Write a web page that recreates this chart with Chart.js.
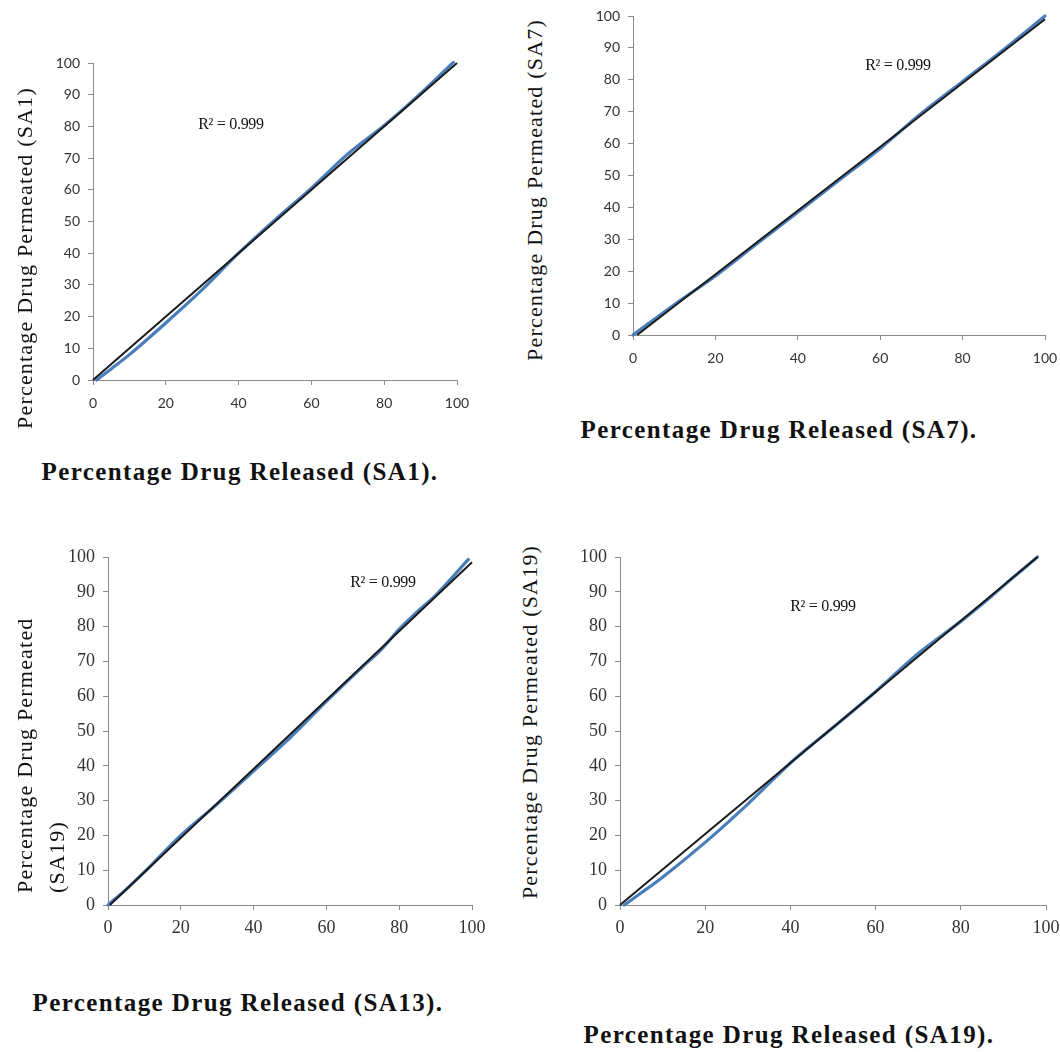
<!DOCTYPE html>
<html>
<head>
<meta charset="utf-8">
<script src="https://cdn.jsdelivr.net/npm/chart.js@4.4.1/dist/chart.umd.min.js"></script>
<style>
  html, body { margin: 0; padding: 0; background: #fff; }
  #wrap { position: relative; width: 1060px; height: 1052px; overflow: hidden; }
  canvas { position: absolute; }
  .txt { position: absolute; white-space: nowrap; color: #111; font-family: "Liberation Serif", serif; }
  .xcap { font-size: 25px; font-weight: bold; letter-spacing: 1.4px; transform: translate(-50%, -50%); }
  .ycap { font-size: 22px; letter-spacing: 1.2px; transform: translate(-50%, -50%) rotate(-90deg); }
  .ycap2 { font-size: 22px; letter-spacing: 1.2px; line-height: 32px; transform-origin: left top; transform: rotate(-90deg); }
  .r2 { font-size: 16px; letter-spacing: -0.3px; transform: translate(-50%, -50%); }
</style>
</head>
<body>
<div id="wrap">
  <canvas id="gSA1"></canvas>
  <canvas id="gSA7"></canvas>
  <canvas id="gSA13"></canvas>
  <canvas id="gSA19"></canvas>

  <div class="txt xcap" style="left:240px; top:472px;">Percentage Drug Released (SA1).</div>
  <div class="txt ycap" style="left:25px; top:258px;">Percentage Drug Permeated (SA1)</div>
  <div class="txt r2" style="left:231px; top:124px;">R² = 0.999</div>

  <div class="txt xcap" style="left:779px; top:430px;">Percentage Drug Released (SA7).</div>
  <div class="txt ycap" style="left:535px; top:190px;">Percentage Drug Permeated (SA7)</div>
  <div class="txt r2" style="left:898px; top:65px;">R² = 0.999</div>

  <div class="txt xcap" style="left:238px; top:1003px;">Percentage Drug Released (SA13).</div>
  <div class="txt ycap2" style="left:9px; top:893px;">Percentage Drug Permeated<br>(SA19)</div>
  <div class="txt r2" style="left:383px; top:582px;">R² = 0.999</div>

  <div class="txt xcap" style="left:789px; top:1035px;">Percentage Drug Released (SA19).</div>
  <div class="txt ycap" style="left:530px; top:722px;">Percentage Drug Permeated (SA19)</div>
  <div class="txt r2" style="left:823px; top:606px;">R² = 0.999</div>
</div>

<script>
// datos (% liberado vs % permeado)
const sa1Liberado  = [1, 5, 10, 20, 30, 40, 50, 60, 70, 80, 88, 99];
const sa1Permeado  = [0, 3.5, 8, 18, 28.5, 40, 50.5, 60.5, 71.3, 80.3, 88.3, 100.2];
const sa1TendX = [0, 100];
const sa1TendY = [0, 100];

const sa7Liberado  = [0, 10, 20, 30, 40, 50, 60, 70, 80, 90, 100];
const sa7Permeado  = [0, 9.5, 18.5, 28.5, 38.5, 48.5, 58.5, 69.5, 79.5, 89.5, 100];
const sa7TendX = [1, 100];
const sa7TendY = [0, 99];

const sa13Liberado = [0, 5, 10, 20, 30, 40, 50, 60, 70, 75, 80, 85, 90, 99];
const sa13Permeado = [0, 4.5, 9.5, 20, 29, 38.5, 48, 58.5, 68.5, 73.3, 79.3, 84.3, 89, 99.3];
const sa13TendX = [0.5, 100];
const sa13TendY = [0, 98.5];

const sa19Liberado = [1, 5, 10, 20, 30, 40, 50, 60, 70, 80, 87, 92, 98];
const sa19Permeado = [0, 3.5, 8, 18, 29, 40.8, 51, 61.3, 72.3, 81.5, 88.5, 93.8, 100];
const sa19TendX = [0, 98];
const sa19TendY = [0, 100];

const ticksX = [0, 20, 40, 60, 80, 100];
const ticksY = [0, 10, 20, 30, 40, 50, 60, 70, 80, 90, 100];

// 🔥 armar puntos
function puntos(xs, ys) {
    return xs.map((x, i) => ({ x: x, y: ys[i] }));
}

// 🔥 dibujar un panel
function dibujar(id, caja, lib, perm, tx, ty, fuente, padX) {
    let padL = 60, padT = 14, padR = 14, padB = 44;
    let cv = document.getElementById(id);
    let w = caja.R - caja.L + padL + padR;
    let h = caja.B - caja.T + padT + padB;
    cv.style.left = (caja.L - padL) + "px";
    cv.style.top = (caja.T - padT) + "px";
    cv.width = w; cv.height = h;
    cv.style.width = w + "px"; cv.style.height = h + "px";

    let gris = "#8a8a8a";

    return new Chart(cv, {
        type: "scatter",
        data: {
            datasets: [
                {
                    data: puntos(tx, ty), showLine: true, order: 0,
                    borderColor: "#1a1a1a", borderWidth: 2, pointRadius: 0, clip: 4
                },
                {
                    data: puntos(lib, perm), showLine: true, order: 1,
                    borderColor: "#4a7ebb", borderWidth: 3.2, pointRadius: 0,
                    cubicInterpolationMode: "monotone", borderCapStyle: "round", clip: 4
                }
            ]
        },
        options: {
            responsive: false,
            animation: false,
            layout: { padding: { top: padT, right: padR, left: 0, bottom: 0 } },
            plugins: { legend: { display: false }, tooltip: { enabled: false } },
            scales: {
                x: {
                    type: "linear", min: 0, max: 100,
                    afterBuildTicks: s => { s.ticks = ticksX.map(v => ({ value: v })); },
                    ticks: { color: "#333", font: fuente, padding: padX, maxRotation: 0 },
                    grid: { drawOnChartArea: false, drawTicks: true, tickLength: 5, color: gris },
                    border: { color: gris, width: 1 },
                    afterFit: s => { s.height = padB; s.paddingLeft = 0; s.paddingRight = 0; }
                },
                y: {
                    type: "linear", min: 0, max: 100,
                    afterBuildTicks: s => { s.ticks = ticksY.map(v => ({ value: v })); },
                    ticks: { color: "#333", font: fuente, padding: 8 },
                    grid: { drawOnChartArea: false, drawTicks: true, tickLength: 5, color: gris },
                    border: { color: gris, width: 1 },
                    afterFit: s => { s.width = padL; s.paddingTop = 0; s.paddingBottom = 0; }
                }
            }
        }
    });
}

let sans = { family: "Lato", size: 14 };
let serif = { family: "Liberation Serif", size: 18 };

dibujar("gSA1",  { L: 93,  R: 457,  T: 63,  B: 380 }, sa1Liberado,  sa1Permeado,  sa1TendX,  sa1TendY,  sans, 10);
dibujar("gSA7",  { L: 633, R: 1045, T: 16,  B: 335 }, sa7Liberado,  sa7Permeado,  sa7TendX,  sa7TendY,  sans, 10);
dibujar("gSA13", { L: 108, R: 472,  T: 557, B: 905 }, sa13Liberado, sa13Permeado, sa13TendX, sa13TendY, serif, 7);
dibujar("gSA19", { L: 620, R: 1046, T: 557, B: 905 }, sa19Liberado, sa19Permeado, sa19TendX, sa19TendY, serif, 7);
</script>
</body>
</html>
